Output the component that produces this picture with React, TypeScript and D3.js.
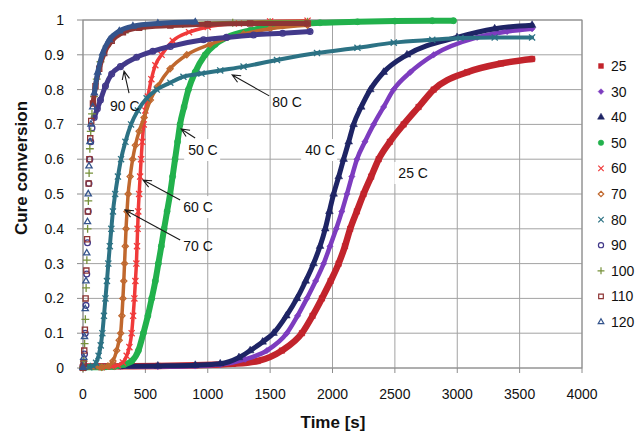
import React from "react";
import * as d3 from "d3";

type Pt = [number, number];

// Cure conversion vs time, one series per cure temperature (°C)
const temps = ["25", "30", "40", "50", "60", "70", "80", "90", "100", "110", "120"];

const xTickValues = [0, 500, 1000, 1500, 2000, 2500, 3000, 3500, 4000];
const yTickValues = [0, 0.1, 0.2, 0.3, 0.4, 0.5, 0.6, 0.7, 0.8, 0.9, 1];
const yTickLabels = ["0", "0.1", "0.2", "0.3", "0.4", "0.5", "0.6", "0.7", "0.8", "0.9", "1"];

const c25: Pt[] = [[0,0.004],[300,0.005],[600,0.006],[900,0.008],[1200,0.012],[1400,0.02],[1594,0.05],[1755,0.1],[1840,0.15],[1915,0.2],[1985,0.25],[2049,0.3],[2100,0.35],[2142,0.4],[2195,0.45],[2249,0.5],[2310,0.55],[2370,0.6],[2460,0.65],[2570,0.7],[2690,0.75],[2811,0.8],[3079,0.85],[3350,0.875],[3600,0.888]];
const c30: Pt[] = [[0,0.003],[300,0.004],[600,0.004],[900,0.006],[1100,0.01],[1300,0.025],[1474,0.05],[1634,0.1],[1720,0.15],[1795,0.2],[1865,0.25],[1929,0.3],[1980,0.35],[2030,0.4],[2075,0.45],[2116,0.5],[2155,0.55],[2196,0.6],[2260,0.65],[2330,0.7],[2410,0.75],[2490,0.8],[2624,0.85],[2811,0.9],[3159,0.95],[3400,0.967],[3600,0.975]];
const c40: Pt[] = [[0,0.004],[300,0.005],[600,0.006],[900,0.008],[1100,0.012],[1250,0.03],[1340,0.05],[1440,0.075],[1527,0.1],[1630,0.15],[1715,0.2],[1785,0.25],[1848,0.3],[1900,0.35],[1942,0.4],[1975,0.45],[2009,0.5],[2050,0.55],[2089,0.6],[2130,0.65],[2169,0.7],[2230,0.75],[2303,0.8],[2410,0.85],[2597,0.9],[2998,0.95],[3300,0.975],[3600,0.985]];
const c50: Pt[] = [[0,0.002],[150,0.002],[250,0.004],[330,0.01],[391,0.02],[444,0.05],[484,0.1],[520,0.15],[551,0.2],[580,0.25],[604,0.3],[628,0.35],[650,0.4],[674,0.45],[698,0.5],[718,0.55],[738,0.6],[758,0.65],[778,0.7],[810,0.75],[845,0.8],[899,0.85],[979,0.9],[1060,0.93],[1153,0.95],[1340,0.97],[1607,0.985],[1900,0.992],[2200,0.995],[2500,0.997],[2800,0.998],[2970,0.998]];
const c60: Pt[] = [[0,0.001],[150,0.002],[230,0.004],[280,0.008],[320,0.016],[350,0.035],[372,0.06],[390,0.1],[402,0.15],[412,0.2],[420,0.25],[428,0.3],[433,0.35],[438,0.4],[443,0.45],[450,0.5],[458,0.55],[466,0.6],[475,0.65],[487,0.7],[500,0.74],[520,0.78],[548,0.83],[580,0.87],[630,0.9],[720,0.94],[850,0.965],[1000,0.98],[1250,0.99],[1500,0.996],[1800,0.998]];
const c70: Pt[] = [[0,0.001],[150,0.002],[200,0.006],[240,0.02],[270,0.05],[290,0.08],[302,0.1],[312,0.15],[320,0.2],[327,0.25],[333,0.3],[339,0.35],[345,0.4],[353,0.45],[362,0.5],[378,0.55],[398,0.6],[420,0.64],[450,0.68],[490,0.72],[540,0.77],[600,0.81],[698,0.86],[832,0.9],[1019,0.93],[1287,0.96],[1500,0.975],[1800,0.985]];
const c80: Pt[] = [[0,0.001],[50,0.002],[80,0.006],[105,0.015],[125,0.035],[142,0.065],[155,0.1],[168,0.15],[180,0.2],[192,0.25],[203,0.3],[215,0.35],[227,0.4],[240,0.45],[258,0.5],[280,0.55],[305,0.6],[340,0.65],[385,0.7],[440,0.74],[510,0.775],[591,0.8],[700,0.82],[805,0.837],[950,0.846],[1100,0.855],[1287,0.866],[1555,0.885],[1876,0.905],[2200,0.92],[2491,0.935],[2800,0.943],[3026,0.948],[3300,0.95],[3600,0.95]];
const c90: Pt[] = [[0,0.002],[6,0.01],[12,0.04],[18,0.1],[24,0.18],[30,0.27],[36,0.36],[42,0.45],[48,0.53],[55,0.6],[62,0.65],[72,0.69],[90,0.72],[115,0.745],[140,0.77],[180,0.81],[230,0.845],[300,0.866],[430,0.893],[560,0.91],[700,0.924],[966,0.943],[1150,0.95],[1367,0.957],[1600,0.962],[1820,0.967]];
const c100: Pt[] = [[0,0.001],[7,0.02],[13,0.07],[19,0.14],[25,0.23],[31,0.31],[37,0.4],[43,0.48],[49,0.56],[55,0.63],[62,0.68],[72,0.73],[88,0.78],[110,0.83],[140,0.88],[190,0.925],[260,0.955],[360,0.972],[500,0.982],[800,0.988],[1200,0.992],[1500,0.994],[1800,0.995]];
const c110: Pt[] = [[0,0.001],[5,0.015],[10,0.05],[15,0.11],[21,0.2],[27,0.28],[33,0.37],[39,0.45],[45,0.53],[51,0.6],[58,0.66],[66,0.71],[80,0.76],[100,0.81],[130,0.86],[170,0.905],[230,0.94],[320,0.965],[450,0.978],[700,0.984],[1000,0.988],[1340,0.99],[1800,0.99]];
const c120: Pt[] = [[0,0.001],[6,0.03],[12,0.09],[18,0.17],[24,0.25],[30,0.33],[36,0.42],[42,0.5],[48,0.58],[56,0.65],[64,0.7],[78,0.75],[91,0.79],[118,0.85],[158,0.905],[211,0.943],[291,0.968],[400,0.982],[600,0.99],[900,0.994]];

const seriesData: Pt[][] = [c25, c30, c40, c50, c60, c70, c80, c90, c100, c110, c120];

// Per-series look: marker colour, glyph, filled or open, band width, and the
// fast initial rise that is shown as separate markers only.
const looks = [
  { color: "#c2242c", shape: d3.symbolSquare, size: 30, filled: true, band: 6.5, gap: null as null | [number, number] },
  { color: "#7d3cbf", shape: d3.symbolDiamond2, size: 26, filled: true, band: 4.5, gap: null },
  { color: "#1e2465", shape: d3.symbolTriangle, size: 26, filled: true, band: 5, gap: null },
  { color: "#22b14c", shape: d3.symbolCircle, size: 30, filled: true, band: 6, gap: null },
  { color: "#f03a3a", shape: d3.symbolTimes, size: 26, filled: false, band: 3.5, gap: null },
  { color: "#c0682e", shape: d3.symbolDiamond2, size: 24, filled: false, band: 3.5, gap: null },
  { color: "#2c7284", shape: d3.symbolTimes, size: 26, filled: false, band: 4, gap: null },
  { color: "#42398a", shape: d3.symbolCircle, size: 26, filled: false, band: 5, gap: [1, 80] as [number, number] },
  { color: "#76913a", shape: d3.symbolPlus, size: 22, filled: false, band: 4, gap: [1, 80] as [number, number] },
  { color: "#8e3535", shape: d3.symbolSquare2, size: 34, filled: false, band: 5, gap: [1, 80] as [number, number] },
  { color: "#34548c", shape: d3.symbolTriangle2, size: 28, filled: false, band: 5, gap: [1, 80] as [number, number] },
];

// Curve labels with leader arrows, in data coordinates
const notes = [
  { text: "90 C", at: [217, 0.7385], from: [369, 0.79], to: [329, 0.853], box: false },
  { text: "80 C", at: [1517, 0.75], from: [1493, 0.782], to: [1196, 0.842], box: false },
  { text: "50 C", at: [843, 0.612], from: [899, 0.661], to: [787, 0.687], box: true },
  { text: "60 C", at: [803, 0.448], from: [779, 0.483], to: [482, 0.54], box: true },
  { text: "70 C", at: [803, 0.336], from: [779, 0.368], to: [337, 0.454], box: false },
  { text: "40 C", at: [1781, 0.612], from: null, to: null, box: true },
  { text: "25 C", at: [2528, 0.546], from: null, to: null, box: true },
];

const W = 639;
const H = 433;
const FONT = "'Liberation Sans', Arial, sans-serif";

export default function App() {
  const x = d3.scaleLinear().domain([0, 4000]).range([83, 582]);
  const y = d3.scaleLinear().domain([0, 1]).range([368, 20]);
  const [x0, x1] = x.range();
  const [y0, y1] = y.range();

  const arrow = (fx: number, fy: number, tx: number, ty: number) => {
    const a = Math.atan2(ty - fy, tx - fx);
    const len = 9;
    const s = 0.42;
    const p1 = [tx - len * Math.cos(a - s), ty - len * Math.sin(a - s)];
    const p2 = [tx - len * Math.cos(a + s), ty - len * Math.sin(a + s)];
    return `M${fx},${fy}L${tx},${ty}M${p1[0]},${p1[1]}L${tx},${ty}L${p2[0]},${p2[1]}`;
  };

  return (
    <svg width={W} height={H} style={{ position: "absolute", left: 0, top: 0, background: "#fff" }} fontFamily={FONT}>
      <rect x={0} y={0} width={W} height={H} fill="#fff" />
      {/* grid */}
      {xTickValues.map((t) => (
        <line key={"gx" + t} x1={x(t)} x2={x(t)} y1={y1} y2={y0} stroke="#a3a3a3" strokeWidth={1} />
      ))}
      {yTickValues.map((v) => (
        <line key={"gy" + v} x1={x0} x2={x1} y1={y(v)} y2={y(v)} stroke="#a3a3a3" strokeWidth={1} />
      ))}
      <rect x={x0} y={y1} width={x1 - x0} height={y0 - y1} fill="none" stroke="#8c8c8c" strokeWidth={1} />
      {/* ticks */}
      {yTickValues.map((v) => (
        <line key={"ty" + v} x1={x0 - 6} x2={x0} y1={y(v)} y2={y(v)} stroke="#8c8c8c" />
      ))}
      {xTickValues.map((t) => (
        <line key={"tx" + t} x1={x(t)} x2={x(t)} y1={y0} y2={y0 + 5} stroke="#8c8c8c" />
      ))}

      {/* series */}
      {seriesData.map((data, i) => {
        const lk = looks[i];
        const gap = lk.gap;
        const line = d3
          .line<Pt>()
          .defined((d) => !(gap && d[0] > gap[0] && d[0] < gap[1]))
          .x((d) => x(d[0]))
          .y((d) => y(d[1]))
          .curve(d3.curveMonotoneX);
        const sym = d3.symbol().type(lk.shape).size(lk.size)() || "";
        return (
          <g key={"s" + i}>
            <path d={line(data) || ""} fill="none" stroke={lk.color} strokeWidth={lk.band} strokeLinejoin="round" strokeLinecap="round" />
            {data.map((d, j) => (
              <path
                key={j}
                d={sym}
                transform={`translate(${x(d[0])},${y(d[1])})`}
                fill={lk.filled ? lk.color : "none"}
                stroke={lk.color}
                strokeWidth={lk.filled ? 0.5 : 1.3}
              />
            ))}
          </g>
        );
      })}

      {/* annotations */}
      {notes.map((n) => {
        const tx = x(n.at[0]);
        const ty = y(n.at[1]);
        return (
          <g key={n.text}>
            {n.box && <rect x={tx - 4} y={ty - 16} width={36} height={22} fill="#fff" />}
            {n.from && n.to && (
              <path d={arrow(x(n.from[0]), y(n.from[1]), x(n.to[0]), y(n.to[1]))} fill="none" stroke="#1a1a1a" strokeWidth={1.1} />
            )}
            <text x={tx} y={ty} fontSize={14} fill="#111">{n.text}</text>
          </g>
        );
      })}

      {/* axis labels */}
      {xTickValues.map((t) => (
        <text key={"lx" + t} x={x(t)} y={399} textAnchor="middle" fontSize={14} fill="#111">{String(t)}</text>
      ))}
      {yTickValues.map((v, i) => (
        <text key={"ly" + v} x={64} y={y(v)} dy="0.35em" textAnchor="end" fontSize={14} fill="#111">{yTickLabels[i]}</text>
      ))}
      <text x={333} y={428} textAnchor="middle" fontSize={17} fontWeight="bold" fill="#111">Time [s]</text>
      <text transform="translate(27,168) rotate(-90)" textAnchor="middle" fontSize={17} fontWeight="bold" fill="#111">Cure conversion</text>

      {/* legend */}
      {temps.map((t, i) => {
        const lk = looks[i];
        const ly = 66 + i * 25.6;
        const sym = d3.symbol().type(lk.shape).size(lk.size * 0.8)() || "";
        return (
          <g key={"lg" + t}>
            <path d={sym} transform={`translate(601,${ly})`} fill={lk.filled ? lk.color : "none"} stroke={lk.color} strokeWidth={lk.filled ? 0.5 : 1.2} />
            <text x={611} y={ly} dy="0.35em" fontSize={14} fill="#111">{t}</text>
          </g>
        );
      })}
    </svg>
  );
}
